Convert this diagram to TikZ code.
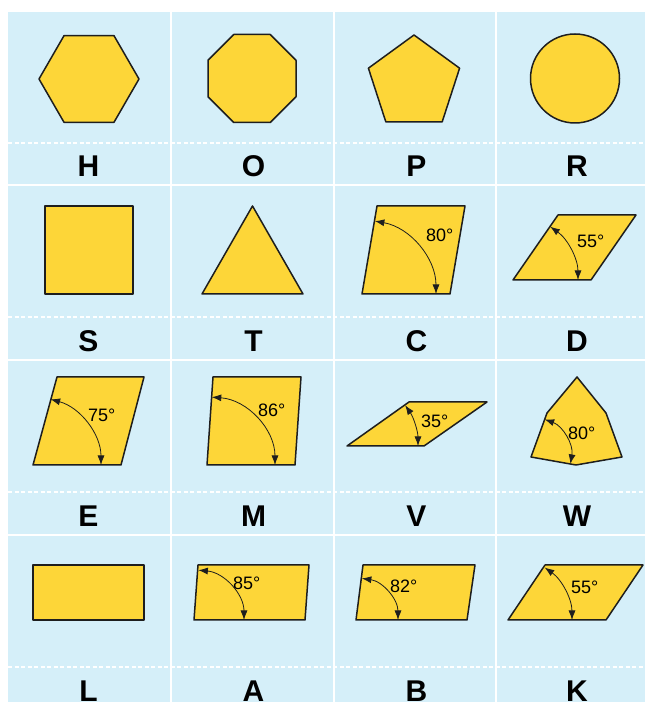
\documentclass[tikz,border=0pt]{standalone}
\usepackage{fontspec}
\setmainfont{Liberation Sans}
\usetikzlibrary{arrows.meta}
\definecolor{panelblue}{HTML}{D5EFF9}
\definecolor{tileyellow}{HTML}{FDD638}
\definecolor{tileedge}{HTML}{1E1E1E}

\begin{document}
\begin{tikzpicture}[x=1pt,y=1pt,
    tile/.style={draw=tileedge,fill=tileyellow,line width=1.5pt,line join=round},
    anglearc/.style={draw=tileedge,line width=0.8pt,
      {Latex[length=9.5pt,width=7pt]}-{Latex[length=9.5pt,width=7pt]}},
    letter/.style={anchor=base,inner sep=0pt,font=\fontsize{30}{30}\selectfont\bfseries},
    deg/.style={anchor=base west,inner sep=0pt,font=\fontsize{18}{18}\selectfont},
    gridline/.style={white,line width=2pt},
    dashline/.style={white,line width=1.5pt,dash pattern=on 4pt off 2.5pt}]

             \useasboundingbox (0,0) rectangle (645,702);
             \fill[white] (0,0) rectangle (645,702);
             \fill[panelblue] (8,0) rectangle (645,690);

             % white grid
             \foreach \x in {170.5,333.5,495.5} \draw[gridline] (\x,0) -- (\x,690);
             \foreach \y in {517,342,167} \draw[gridline] (8,\y) -- (645,\y);
             \foreach \y in {559,385,210,35} \draw[dashline] (8,\y) -- (645,\y);

             % row 1
             \draw[tile] (139,623) -- (114,666.3) -- (64,666.3) -- (39,623)
                 -- (64,579.7) -- (114,579.7) -- cycle;
             \draw[tile] (296,641.7) -- (270.2,667.5) -- (233.8,667.5) -- (208,641.7)
                 -- (208,605.3) -- (233.8,579.5) -- (270.2,579.5) -- (296,605.3) -- cycle;
             \draw[tile] (414,667) -- (368.4,633.8) -- (385.8,580.2) -- (442.2,580.2)
                 -- (459.6,633.8) -- cycle;
             \draw[tile] (575,623.5) circle (44.5);
             \node[letter] (labH) at (88.5,525.5) {H};
             \node[letter] (labO) at (253.5,525.5) {O};
             \node[letter] (labP) at (416.5,525.5) {P};
             \node[letter] (labR) at (577,525.5) {R};

             % row 2
             \draw[tile] (45,408) rectangle (133,496);
             \draw[tile] (202,408) -- (303,408) -- (252.5,496) -- cycle;
             \draw[tile] (362,408) -- (450,408) -- (465,496) -- (377,496) -- cycle;
             \draw[anglearc] (436,408) arc[start angle=0,end angle=80,radius=74];
             \node[deg] (degC) at (426,460) {80°};
             \draw[tile] (513,422) -- (591,422) -- (636,487) -- (558,487) -- cycle;
             \draw[anglearc] (578,422) arc[start angle=0,end angle=55,radius=65];
             \node[deg] (degD) at (577,454) {55°};
             \node[letter] (labS) at (88.5,350.5) {S};
             \node[letter] (labT) at (253.5,350.5) {T};
             \node[letter] (labC) at (416.5,350.5) {C};
             \node[letter] (labD) at (577,350.5) {D};

             % row 3
             \draw[tile] (33,237) -- (121,237) -- (144,325) -- (57,325) -- cycle;
             \draw[anglearc] (101,237) arc[start angle=0,end angle=75,radius=68];
             \node[deg] (degE) at (88,280) {75°};
             \draw[tile] (207,237) -- (295,237) -- (301,325) -- (213,325) -- cycle;
             \draw[anglearc] (275,237) arc[start angle=0,end angle=86,radius=68];
             \node[deg] (degM) at (258,285) {86°};
             \draw[tile] (347,256) -- (424,256) -- (487,300) -- (409,300) -- cycle;
             \draw[anglearc] (418,256) arc[start angle=0,end angle=35,radius=71];
             \node[deg] (degV) at (421,274) {35°};
             \draw[tile] (577,325) -- (606,289) -- (622,245) -- (576,237) -- (531,245)
                 -- (547,289) -- cycle;
             \draw[anglearc] (570.4,238.1) arc[start angle=-10,end angle=70,radius=40];
             \node[deg] (degW) at (568,262) {80°};
             \node[letter] (labE) at (88.5,175.5) {E};
             \node[letter] (labM) at (253.5,175.5) {M};
             \node[letter] (labV) at (416.5,175.5) {V};
             \node[letter] (labW) at (577,175.5) {W};

             % row 4
             \draw[tile] (33,82) rectangle (144,137);
             \draw[tile] (194,82) -- (305,82) -- (309,137) -- (198,137) -- cycle;
             \draw[anglearc] (244,82) arc[start angle=0,end angle=85,radius=50];
             \node[deg] (degA) at (233,112) {85°};
             \draw[tile] (356,82) -- (467,82) -- (475,137) -- (363,137) -- cycle;
             \draw[anglearc] (398,82) arc[start angle=0,end angle=82,radius=42];
             \node[deg] (degB) at (390,109) {82°};
             \draw[tile] (508,82) -- (606,82) -- (643,137) -- (545,137) -- cycle;
             \draw[anglearc] (572,82) arc[start angle=0,end angle=55,radius=64];
             \node[deg] (degK) at (571,108) {55°};
             \node[letter] (labL) at (88.5,0.5) {L};
             \node[letter] (labA) at (253.5,0.5) {A};
             \node[letter] (labB) at (416.5,0.5) {B};
             \node[letter] (labK) at (577,0.5) {K};
\end{tikzpicture}
\end{document}
